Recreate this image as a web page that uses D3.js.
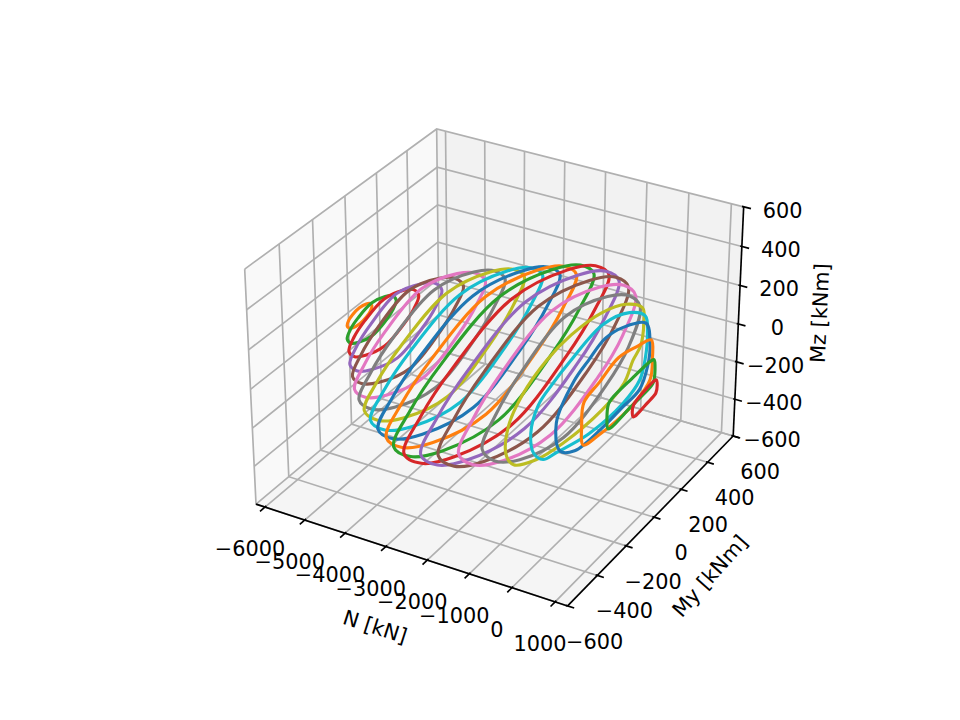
<!DOCTYPE html>
<html>
<head>
<meta charset="utf-8">
<style>
  body { margin: 0; background: #fff; }
  text { font-family: "DejaVu Sans"; font-size: 20.83px; fill: #000; }
</style>
</head>
<body>
<div id="chart"></div>
<script src="https://cdn.jsdelivr.net/npm/d3@7"></script>
<script>
var nTicks = [-6000, -5000, -4000, -3000, -2000, -1000, 0, 1000];
var myTicks = [-600, -400, -200, 0, 200, 400, 600];
var mzTicks = [-600, -400, -200, 0, 200, 400, 600];

// axial force of each contour
var nValues = [-5940, -5625, -5310, -4995, -4680, -4365, -4050, -3735, -3420, -3105, -2790, -2475,
    -2160, -1845, -1530, -1215, -900, -585, -270, 45, 360, 675, 990];

var myValues = [
    [80, 68, 44, 0, -44, -68, -80, -68, -44, 0, 44, 68],
    [158, 134, 87, 0, -87, -134, -158, -134, -87, 0, 87, 134],
    [226, 192, 124, 0, -124, -192, -226, -192, -124, 0, 124, 192],
    [299, 254, 164, 0, -164, -254, -299, -254, -164, 0, 164, 254],
    [362, 308, 199, 0, -199, -308, -362, -308, -199, 0, 199, 308],
    [429, 365, 236, 0, -236, -365, -429, -365, -236, 0, 236, 365],
    [480, 408, 264, 0, -264, -408, -480, -408, -264, 0, 264, 408],
    [528, 449, 290, 0, -290, -449, -528, -449, -290, 0, 290, 449],
    [570, 485, 314, 0, -314, -485, -570, -485, -314, 0, 314, 485],
    [605, 514, 333, 0, -333, -514, -605, -514, -333, 0, 333, 514],
    [635, 540, 349, 0, -349, -540, -635, -540, -349, 0, 349, 540],
    [671, 570, 369, 0, -369, -570, -671, -570, -369, 0, 369, 570],
    [690, 587, 380, 0, -380, -587, -690, -587, -380, 0, 380, 587],
    [670, 570, 369, 0, -369, -570, -670, -570, -369, 0, 369, 570],
    [646, 549, 355, 0, -355, -549, -646, -549, -355, 0, 355, 549],
    [604, 513, 332, 0, -332, -513, -604, -513, -332, 0, 332, 513],
    [542, 461, 298, 0, -298, -461, -542, -461, -298, 0, 298, 461],
    [475, 462, 338, 159, -48, -214, -372, -462, -475, -427, -283, -96, 179, 338, 400, 455],
    [405, 385, 267, 80, -142, -267, -357, -405, -384, -322, -232, -10, 239, 357, 395],
    [327, 292, 130, 0, -110, -210, -327, -300, -200, 0, 130, 257, 313],
    [248, 235, 130, 0, -130, -235, -248, -235, -130, 0, 130, 235],
    [169, 160, 140, 0, -140, -160, -169, -160, -140, 0, 140, 160],
    [88, 80, 65, 0, -65, -80, -88, -80, -65, 0, 65, 80]
];

var mzValues = [
    [0, 21, 34, 42, 34, 21, 0, -21, -34, -42, -34, -21],
    [0, 38, 64, 85, 64, 38, 0, -38, -64, -85, -64, -38],
    [0, 52, 91, 124, 91, 52, 0, -50, -88, -120, -88, -50],
    [0, 65, 119, 170, 119, 65, 0, -63, -116, -165, -116, -63],
    [0, 74, 144, 205, 144, 74, 0, -72, -140, -200, -140, -72],
    [0, 84, 163, 233, 163, 84, 0, -84, -163, -233, -163, -84],
    [0, 88, 172, 245, 172, 88, 0, -95, -186, -265, -186, -95],
    [0, 89, 174, 248, 174, 89, 0, -104, -203, -290, -203, -104],
    [0, 93, 181, 258, 181, 93, 0, -108, -210, -300, -210, -108],
    [0, 97, 189, 270, 189, 97, 0, -112, -217, -310, -217, -112],
    [0, 103, 200, 285, 200, 103, 0, -117, -228, -325, -228, -117],
    [0, 108, 210, 300, 210, 108, 0, -121, -235, -335, -235, -121],
    [0, 112, 218, 311, 218, 112, 0, -122, -238, -340, -238, -122],
    [0, 112, 218, 312, 218, 112, 0, -122, -238, -340, -250, -135],
    [0, 112, 217, 310, 217, 112, 0, -122, -237, -338, -255, -145],
    [0, 110, 214, 305, 214, 110, 0, -120, -233, -333, -260, -155],
    [0, 106, 207, 295, 207, 106, 0, -117, -228, -326, -260, -165],
    [-25, 62, 160, 230, 254, 236, 171, 76, -57, -140, -220, -267, -285, -252, -174, -133],
    [-12, 88, 181, 243, 207, 171, 130, 21, -93, -168, -197, -259, -269, -228, -135],
    [0, 130, 215, 243, 210, 171, 40, -120, -190, -207, -200, -192, -109],
    [0, 100, 135, 165, 130, 100, -5, -115, -140, -155, -150, -105],
    [8, 68, 76, 78, 72, 60, -2, -66, -74, -64, -58, -48],
    [5, 38, 44, 40, 28, 20, -10, -40, -46, -40, -34, -28]
];

var width = 960;
var height = 720;
var nMin = -6228, nMax = 1287;
var myMin = -600, myMax = 600;
var mzMin = -600, mzMax = 600;

// data -> box centred on the origin, 4:4:3 like mplot3d
var xBox = d3.scaleLinear().domain([nMin, nMax]).range([-0.595, 0.595]);
var yBox = d3.scaleLinear().domain([myMin, myMax]).range([-0.595, 0.595]);
var zBox = d3.scaleLinear().domain([mzMin, mzMax]).range([-0.4465, 0.4465]);

// projected plane -> pixels
var xPix = d3.scaleLinear().domain([-0.1, 0.1]).range([199, 799]);
var yPix = d3.scaleLinear().domain([-0.1, 0.1]).range([656, 56]);

// camera at elev 30, azim -60, dist 10
function project(n, my, mz) {
    var qx = xBox(n), qy = yBox(my), qz = zBox(mz);
    var camX = 0.866 * qx + 0.5 * qy;
    var camY = -0.25 * qx + 0.433 * qy + 0.866 * qz;
    var depth = 10 - (0.433 * qx - 0.75 * qy + 0.5 * qz);
    return [xPix(camX / depth), yPix(camY / depth)];
}

var svg = d3.select("#chart")
    .append("svg")
    .attr("width", width)
    .attr("height", height);

var panes = [
    { fill: "#f9f9f9", corners: [[nMin, myMin, mzMin], [nMin, myMax, mzMin], [nMin, myMax, mzMax], [nMin, myMin, mzMax]] },
    { fill: "#f2f2f2", corners: [[nMin, myMax, mzMin], [nMax, myMax, mzMin], [nMax, myMax, mzMax], [nMin, myMax, mzMax]] },
    { fill: "#f5f5f5", corners: [[nMin, myMin, mzMin], [nMax, myMin, mzMin], [nMax, myMax, mzMin], [nMin, myMax, mzMin]] }
];

svg.selectAll(".pane")
    .data(panes)
    .enter()
    .append("polygon")
    .attr("class", "pane")
    .attr("points", (d) => d.corners.map((c) => project(c[0], c[1], c[2]).join(",")).join(" "))
    .attr("fill", (d) => d.fill);

// grid runs over two walls for every tick
var grid = [];
nTicks.forEach((t) => grid.push([[t, myMin, mzMin], [t, myMax, mzMin], [t, myMax, mzMax]]));
myTicks.forEach((t) => grid.push([[nMax, t, mzMin], [nMin, t, mzMin], [nMin, t, mzMax]]));
mzTicks.forEach((t) => grid.push([[nMin, myMin, t], [nMin, myMax, t], [nMax, myMax, t]]));

var gridLine = d3.line()
    .x((d) => project(d[0], d[1], d[2])[0])
    .y((d) => project(d[0], d[1], d[2])[1]);

svg.selectAll(".grid")
    .data(grid)
    .enter()
    .append("path")
    .attr("class", "grid")
    .attr("d", gridLine)
    .attr("fill", "none")
    .attr("stroke", "#b0b0b0")
    .attr("stroke-width", 1.67);

// black axis lines
var axisLines = [
    [[nMin, myMin, mzMin], [nMax, myMin, mzMin]],
    [[nMax, myMin, mzMin], [nMax, myMax, mzMin]],
    [[nMax, myMax, mzMin], [nMax, myMax, mzMax]]
];

// ticks
nTicks.forEach((t) => axisLines.push([[t, myMin - 30, mzMin], [t, myMin + 8, mzMin]]));
myTicks.forEach((t) => axisLines.push([[nMax + 150, t, mzMin], [nMax - 40, t, mzMin]]));
mzTicks.forEach((t) => axisLines.push([[nMax + 170, myMax, t], [nMax - 40, myMax, t]]));

svg.selectAll(".axis-line")
    .data(axisLines)
    .enter()
    .append("path")
    .attr("class", "axis-line")
    .attr("d", gridLine)
    .attr("fill", "none")
    .attr("stroke", "#000")
    .attr("stroke-width", 1.67);

// tick labels sit at a fixed offset from their tick
function addLabels(ticks, pos, dx, dy) {
    svg.selectAll(null)
        .data(ticks)
        .enter()
        .append("text")
        .attr("x", (d) => pos(d)[0] + dx)
        .attr("y", (d) => pos(d)[1] + dy)
        .attr("text-anchor", "middle")
        .attr("dominant-baseline", "central")
        .text((d) => String(d).replace("-", "\u2212"));
}

addLabels(nTicks, (t) => project(t, myMin, mzMin), -15, 42);
addLabels(myTicks, (t) => project(nMax, t, mzMin), 27, 36);
addLabels(mzTicks, (t) => project(nMax, myMax, t), 39, 4);

var axisTitles = [
    { text: "N [kN]", x: 375, y: 627, angle: 17.7 },
    { text: "My [kNm]", x: 710, y: 576, angle: -48.4 },
    { text: "Mz [kNm]", x: 820, y: 313, angle: -87.3 }
];

svg.selectAll(".axis-title")
    .data(axisTitles)
    .enter()
    .append("text")
    .attr("class", "axis-title")
    .attr("text-anchor", "middle")
    .attr("dominant-baseline", "central")
    .attr("transform", (d) => "translate(" + d.x + "," + d.y + ") rotate(" + d.angle + ")")
    .text((d) => d.text);

// contours, the colour cycle is offset by one because the first slice has no visible size
var color = d3.scaleOrdinal(d3.schemeCategory10).domain(d3.range(10));

var contourLine = d3.line()
    .curve(d3.curveCatmullRomClosed.alpha(0.5))
    .x((d) => d[0])
    .y((d) => d[1]);

svg.selectAll(".contour")
    .data(nValues)
    .enter()
    .append("path")
    .attr("class", "contour")
    .attr("d", (n, i) => contourLine(myValues[i].map((my, j) => project(n, my, mzValues[i][j]))))
    .attr("fill", "none")
    .attr("stroke", (n, i) => color((i + 1) % 10))
    .attr("stroke-width", 3.125);
</script>
</body>
</html>
